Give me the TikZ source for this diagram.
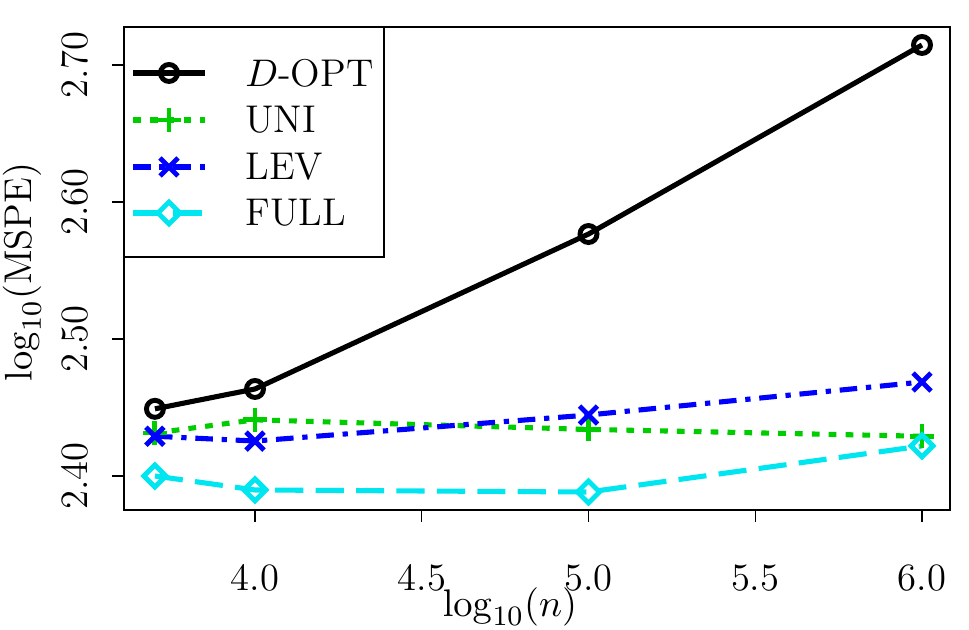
\documentclass[tikz,border=0pt]{standalone}
\usepackage{amsmath}
\usetikzlibrary{calc}
\definecolor{rgreen}{RGB}{0,205,0}
\definecolor{rcyan}{RGB}{0,230,240}
\tikzset{
  curve/.style={line width=1.45pt},
  dopt/.style={curve, black},
  uni/.style={curve, rgreen, dash pattern=on 2.2pt off 2.6pt},
  lev/.style={curve, blue, dash pattern=on 5pt off 2.5pt on 1.5pt off 2.5pt},
  full/.style={curve, rcyan, dash pattern=on 8pt off 3.5pt},
  ticklab/.style={font=\fontsize{11}{13}\selectfont},
  pics/mcirc/.style={code={\draw[solid, line width=1.4pt] (0,0) circle (0.085);}},
  pics/mplus/.style={code={\draw[solid, line width=1.4pt] (-0.12,0) -- (0.12,0) (0,-0.12) -- (0,0.12);}},
  pics/mcross/.style={code={\draw[solid, line width=1.4pt] (-0.09,-0.09) -- (0.09,0.09) (-0.09,0.09) -- (0.09,-0.09);}},
  pics/mdiam/.style={code={\draw[solid, line width=1.4pt] (0.11,0) -- (0,0.11) -- (-0.11,0) -- (0,-0.11) -- cycle;}}
}
% data -> pixel position
\def\px#1{(#1-4)*3.335+2.55}
\def\py#1{-(4.76-(#1-2.40)*13.7)}
\begin{document}
\begin{tikzpicture}
\useasboundingbox (0,0) rectangle (9.69,-6.30);
% frame
\draw[line width=0.4pt] (1.24,-0.27) rectangle (9.50,-5.10);
% x axis
\draw[line width=0.4pt] ({\px{4}},-5.10) -- ({\px{6}},-5.10);
\foreach \v in {4.0,4.5,5.0,5.5,6.0} {
  \draw[line width=0.4pt] ({\px{\v}},-5.10) -- ({\px{\v}},-5.22);
  \node[ticklab] (xt\v) at ({\px{\v}},-5.78) {\v};
}
\node[ticklab] (xlab) at (5.10,-6.07) {$\log_{10}(n)$};
% y axis
\draw[line width=0.4pt] (1.24,{\py{2.40}}) -- (1.24,{\py{2.70}});
\foreach \v in {2.40,2.50,2.60,2.70} {
  \draw[line width=0.4pt] (1.24,{\py{\v}}) -- (1.12,{\py{\v}});
  \node[ticklab, rotate=90] (yt\v) at (0.75,{\py{\v}}) {\v};
}
\node[ticklab, rotate=90] (ylab) at (0.22,-2.72) {$\log_{10}(\text{MSPE})$};
% curves
\draw[dopt] ({\px{3.7}},{\py{2.449}}) -- ({\px{4}},{\py{2.4635}}) -- ({\px{5}},{\py{2.5766}}) -- ({\px{6}},{\py{2.7146}});
\draw[uni] ({\px{3.7}},{\py{2.4314}}) -- ({\px{4}},{\py{2.441}}) -- ({\px{5}},{\py{2.434}}) -- ({\px{6}},{\py{2.429}});
\draw[lev] ({\px{3.7}},{\py{2.429}}) -- ({\px{4}},{\py{2.4255}}) -- ({\px{5}},{\py{2.4445}}) -- ({\px{6}},{\py{2.4686}});
\draw[full] ({\px{3.7}},{\py{2.40}}) -- ({\px{4}},{\py{2.3898}}) -- ({\px{5}},{\py{2.3883}}) -- ({\px{6}},{\py{2.4219}});
\foreach \x/\a/\b/\c/\d in {3.7/2.449/2.4314/2.429/2.40, 4/2.4635/2.441/2.4255/2.3898,
    5/2.5766/2.434/2.4445/2.3883, 6/2.7146/2.429/2.4686/2.4219} {
  \pic[black] at ({\px{\x}},{\py{\a}}) {mcirc};
  \pic[rgreen] at ({\px{\x}},{\py{\b}}) {mplus};
  \pic[blue] at ({\px{\x}},{\py{\c}}) {mcross};
  \pic[rcyan] at ({\px{\x}},{\py{\d}}) {mdiam};
}
% legend
\draw[line width=0.4pt, fill=white] (1.24,-0.27) rectangle (3.84,-2.57);
\foreach \s/\m/\t/\y in {dopt/mcirc/{$D$-OPT}/0.73, uni/mplus/UNI/1.20, lev/mcross/LEV/1.67, full/mdiam/FULL/2.13} {
  \draw[\s] (1.33,-\y) -- (2.05,-\y);
  \pic[\s] at (1.69,-\y) {\m};
  \node[ticklab, anchor=west] (leg\m) at (2.33,-\y) {\t};
}
\end{tikzpicture}
\end{document}
